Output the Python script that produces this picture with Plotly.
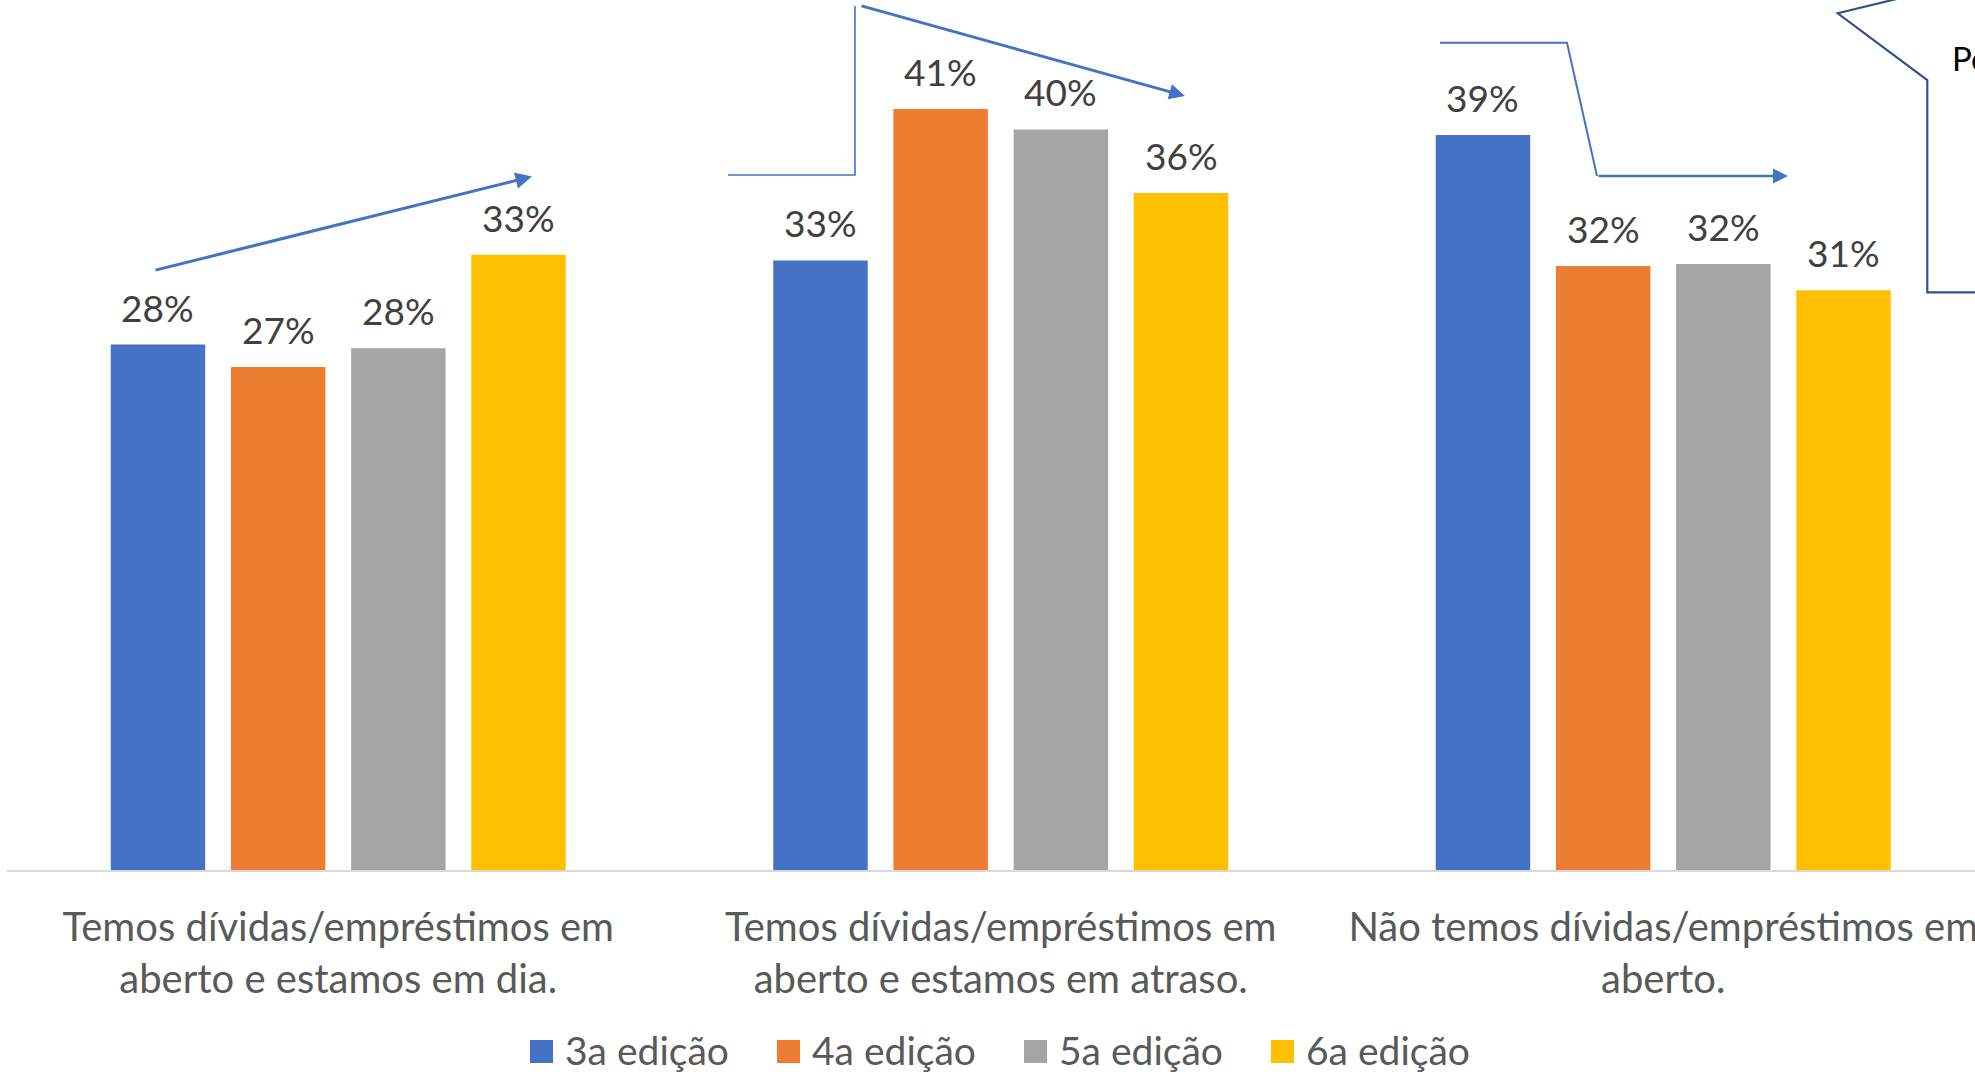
import plotly.graph_objects as go

# ---------------- data ----------------
categories = [
    "Temos dívidas/empréstimos em<br>aberto e estamos em dia.",
    "Temos dívidas/empréstimos em<br>aberto e estamos em atraso.",
    "Não temos dívidas/empréstimos em<br>aberto.",
]
series_names = ["3a edição", "4a edição", "5a edição", "6a edição"]
ed3 = [28.1, 32.6, 39.3]
ed4 = [26.9, 40.7, 32.3]
ed5 = [27.9, 39.6, 32.4]
ed6 = [32.9, 36.2, 31.0]
series_values = [ed3, ed4, ed5, ed6]
colors = ["#4472C4", "#ED7D31", "#A5A5A5", "#FFC000"]

# ---------------- layout constants ----------------
W, H = 1975, 1072
PL, PT, PW, PH = 7, 0, 1968, 870
BARGAP = 0.2744
BARGROUPGAP = 0.214
XR = [-0.5, -0.5 + PW / 662.5]
YR = [0, PH / 18.7]
FONT = "Lato, 'Open Sans', sans-serif"

def px_x(p):
    return (p - PL) / PW

def px_y(p):
    return (PT + PH - p) / PH

xpos = list(range(len(categories)))

fig = go.Figure()
for name, vals, col in zip(series_names, series_values, colors):
    fig.add_trace(go.Bar(x=xpos, y=vals, name=name, marker=dict(color=col, line=dict(width=0)),
                         showlegend=False, hoverinfo="skip"))

annotations = []
slot = (1 - BARGAP) / len(series_names)
for i, vals in enumerate(series_values):
    for j, v in enumerate(vals):
        annotations.append(dict(
            x=xpos[j] + (i - (len(series_names) - 1) / 2) * slot, y=v, xref="x", yref="y",
            text=f"{v:.0f}%", showarrow=False, yanchor="bottom", yshift=13,
            font=dict(family=FONT, size=37, color="#404040")))

# manual legend
LEG_X0, LEG_STEP, LEG_Y = 530, 247, 1050
shapes = []
for i, (name, col) in enumerate(zip(series_names, colors)):
    x0 = LEG_X0 + i * LEG_STEP
    shapes.append(dict(type="rect", xref="paper", yref="paper",
                       x0=px_x(x0), x1=px_x(x0 + 23), y0=px_y(LEG_Y - 10), y1=px_y(LEG_Y + 13),
                       fillcolor=col, line=dict(width=0)))
    annotations.append(dict(x=px_x(x0 + 33), y=px_y(LEG_Y), xref="paper", yref="paper",
                            text=name, showarrow=False, xanchor="left", yanchor="middle",
                            font=dict(family=FONT, size=39, color="#595959")))

ARROW = "#4472C4"

def path(pts):
    s = ""
    for k, (a, b) in enumerate(pts):
        s += ("M" if k == 0 else "L") + f"{px_x(a):.5f},{px_y(b):.5f} "
    return s.strip()

def arrow(tail, head, width, size):
    annotations.append(dict(x=px_x(head[0]), y=px_y(head[1]),
                            ax=tail[0] - head[0], ay=tail[1] - head[1],
                            xref="paper", yref="paper", axref="pixel", ayref="pixel",
                            text="", showarrow=True, arrowhead=2, arrowwidth=width,
                            arrowsize=size, arrowcolor=ARROW, standoff=0, startstandoff=0))

# arrow 1
arrow((154, 270.5), (532, 176.5), 3, 1.1)
# arrow 2 (elbow + diagonal)
shapes.append(dict(type="path", xref="paper", yref="paper",
                   path=path([(728, 175), (855, 175), (855, 6)]),
                   line=dict(color=ARROW, width=1.6), fillcolor="rgba(0,0,0,0)"))
arrow((860, 5.5), (1185, 96), 3, 1.05)
# arrow 3
shapes.append(dict(type="path", xref="paper", yref="paper",
                   path=path([(1440, 42.7), (1567, 42.7), (1597, 176)]),
                   line=dict(color=ARROW, width=2), fillcolor="rgba(0,0,0,0)"))
arrow((1597, 176), (1788, 176), 2.5, 1.2)
# callout box
shapes.append(dict(type="path", xref="paper", yref="paper",
                   path=path([(1913, -5), (1837.7, 13.3), (1927.3, 80), (1927.3, 292.3), (1995, 292.3)]),
                   line=dict(color="#2F528F", width=2.2), fillcolor="rgba(0,0,0,0)"))
annotations.append(dict(x=px_x(1950), y=px_y(72), xref="paper", yref="paper", text="Pe",
                        showarrow=False, xanchor="left", yanchor="bottom", yshift=-8,
                        font=dict(family=FONT, size=33, color="#000000")))

fig.update_layout(
    template="none",
    width=W, height=H,
    margin=dict(l=PL, r=W - PL - PW, t=PT, b=H - PT - PH, pad=0, autoexpand=False),
    paper_bgcolor="white", plot_bgcolor="white",
    barmode="group", bargap=BARGAP, bargroupgap=BARGROUPGAP,
    showlegend=False,
    xaxis=dict(range=XR, tickvals=xpos, ticktext=categories, showgrid=False, zeroline=False,
               showline=True, linecolor="#D9D9D9", linewidth=2, ticks="", automargin=False,
               ticklabelstandoff=21, ticklabeloverflow="allow",
               tickfont=dict(family=FONT, size=40, color="#595959")),
    yaxis=dict(range=YR, visible=False, showgrid=False, zeroline=False, automargin=False),
    annotations=annotations, shapes=shapes,
)

fig.write_html("out.html", config={"displayModeBar": False},
               post_script="document.body.style.margin='0';document.body.style.overflow='hidden';")
